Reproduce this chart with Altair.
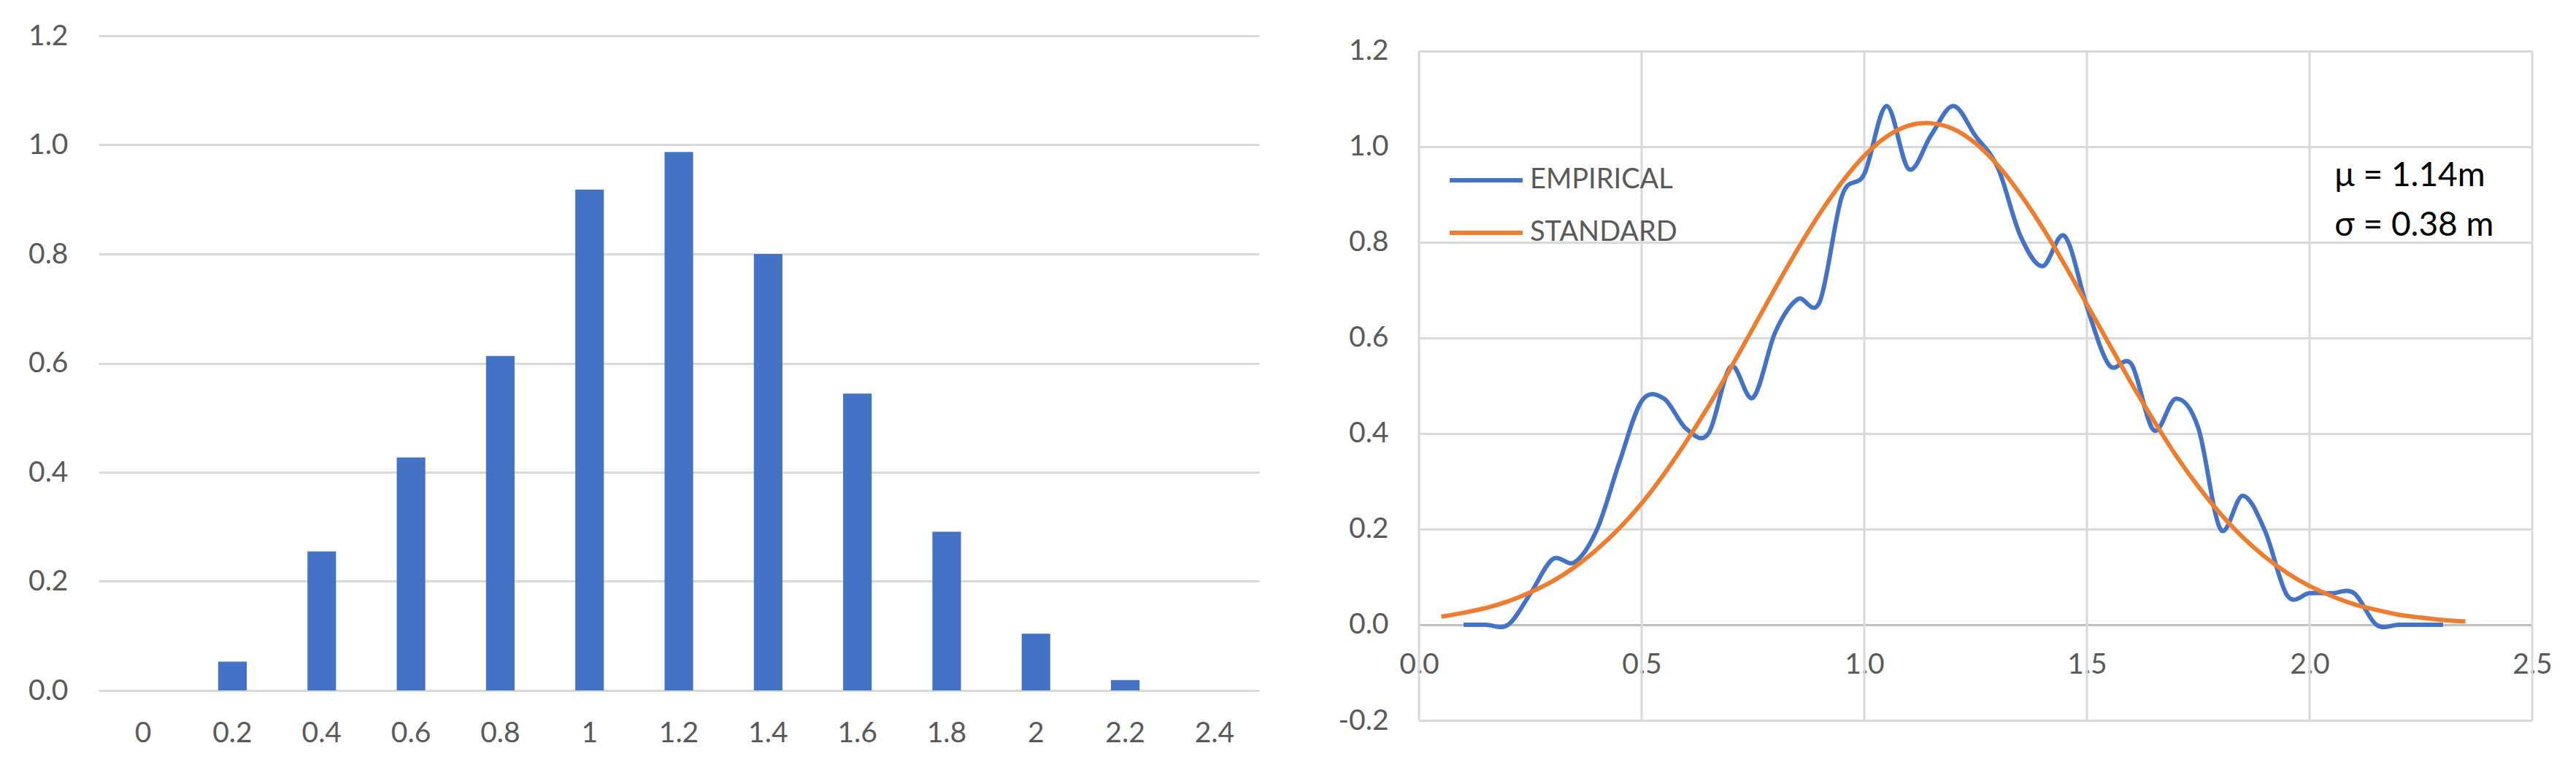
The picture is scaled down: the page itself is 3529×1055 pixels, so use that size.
import altair as alt
import pandas as pd

# ---------------- data: left histogram ----------------
bin_labels = ["0", "0.2", "0.4", "0.6", "0.8", "1", "1.2", "1.4", "1.6", "1.8", "2", "2.2", "2.4"]
bin_values = [0.0, 0.053, 0.255, 0.427, 0.613, 0.918, 0.987, 0.800, 0.544, 0.291, 0.104, 0.019, 0.0]
left_y_ticks = [0.0, 0.2, 0.4, 0.6, 0.8, 1.0, 1.2]

# ---------------- data: right curves ----------------
emp_x = [0.10, 0.15, 0.20, 0.25, 0.30, 0.35, 0.40, 0.45, 0.50, 0.55, 0.60, 0.65, 0.70, 0.75,
         0.80, 0.85, 0.90, 0.95, 1.00, 1.05, 1.10, 1.15, 1.20, 1.25, 1.30, 1.35, 1.40, 1.45,
         1.50, 1.55, 1.60, 1.65, 1.70, 1.75, 1.80, 1.85, 1.90, 1.95, 2.00, 2.05, 2.10, 2.15,
         2.20, 2.25, 2.30]
emp_y = [0.000, 0.000, 0.000, 0.065, 0.137, 0.131, 0.200, 0.340, 0.468, 0.473, 0.410, 0.400,
         0.540, 0.475, 0.612, 0.681, 0.676, 0.897, 0.943, 1.085, 0.953, 1.024, 1.085, 1.022,
         0.956, 0.815, 0.750, 0.813, 0.665, 0.543, 0.545, 0.407, 0.473, 0.412, 0.200, 0.270,
         0.196, 0.061, 0.066, 0.066, 0.066, 0.000, 0.000, 0.000, 0.000]

std_x = [0.05, 0.10, 0.15, 0.20, 0.25, 0.30, 0.35, 0.40, 0.45, 0.50, 0.55, 0.60, 0.65, 0.70,
         0.75, 0.80, 0.85, 0.90, 0.95, 1.00, 1.05, 1.10, 1.15, 1.20, 1.25, 1.30, 1.35, 1.40,
         1.45, 1.50, 1.55, 1.60, 1.65, 1.70, 1.75, 1.80, 1.85, 1.90, 1.95, 2.00, 2.05, 2.10,
         2.15, 2.20, 2.25, 2.30, 2.35]
std_y = [0.017, 0.025, 0.035, 0.049, 0.068, 0.091, 0.121, 0.158, 0.202, 0.254, 0.315, 0.383,
         0.457, 0.537, 0.620, 0.704, 0.785, 0.860, 0.926, 0.981, 1.021, 1.044, 1.049, 1.037,
         1.007, 0.961, 0.901, 0.831, 0.753, 0.670, 0.587, 0.505, 0.427, 0.354, 0.289, 0.232,
         0.183, 0.142, 0.108, 0.081, 0.060, 0.043, 0.031, 0.021, 0.015, 0.010, 0.007]

series_names = ["EMPIRICAL", "STANDARD"]
series_colors = ["#4472C4", "#ED7D31"]
right_x_ticks = [0.0, 0.5, 1.0, 1.5, 2.0, 2.5]
right_y_ticks = [-0.2, 0.0, 0.2, 0.4, 0.6, 0.8, 1.0, 1.2]

note_text = ["\u03bc = 1.14m", "\u03c3 = 0.38 m"]
note_x = [2.056, 2.056]
note_y = [0.918, 0.814]

FONT = "Lato"
LABEL_COLOR = "#595959"
GRID = "#D9D9D9"
HYPHEN_LABEL = "datum.value < 0 ? '-' + format(-datum.value, '.1f') : format(datum.value, '.1f')"

# ---------------- left chart ----------------
hist_df = pd.DataFrame({"bin": bin_labels, "value": bin_values})

left = alt.Chart(hist_df).mark_bar(color="#4472C4").encode(
    x=alt.X("bin:N", sort=bin_labels,
            scale=alt.Scale(paddingInner=0.68, paddingOuter=0.34),
            axis=alt.Axis(title=None, labelAngle=0, ticks=False, tickSize=0, domain=False,
                          grid=False, labelPadding=39)),
    y=alt.Y("value:Q", scale=alt.Scale(domain=[0, 1.2], nice=False),
            axis=alt.Axis(title=None, values=left_y_ticks, format=".1f", grid=True,
                          ticks=False, tickSize=0, domain=False, labelPadding=42)),
).properties(width=1590, height=897)

# ---------------- right chart ----------------
curves_df = pd.concat([
    pd.DataFrame({"x": emp_x, "y": emp_y, "series": series_names[0]}),
    pd.DataFrame({"x": std_x, "y": std_y, "series": series_names[1]}),
], ignore_index=True)

xscale = alt.Scale(domain=[0, 2.5], nice=False, zero=False)
yscale = alt.Scale(domain=[-0.2, 1.232], nice=False, zero=False)

vgrid = alt.Chart(pd.DataFrame({"x": right_x_ticks})).mark_rule(
    color=GRID, strokeWidth=3
).encode(
    x=alt.X("x:Q", scale=xscale,
            axis=alt.Axis(title=None, values=right_x_ticks, format=".1f", grid=False,
                          ticks=False, tickSize=0, domain=True, domainColor="#BFBFBF",
                          domainWidth=3, offset=-131, labelPadding=35,
                          labelFlush=False, labelOverlap=False)),
    y=alt.datum(-0.2),
    y2=alt.datum(1.2),
)

lines = alt.Chart(curves_df).mark_line(interpolate="cardinal", strokeWidth=6).encode(
    x=alt.X("x:Q", scale=xscale),
    y=alt.Y("y:Q", scale=yscale,
            axis=alt.Axis(title=None, values=right_y_ticks, labelExpr=HYPHEN_LABEL,
                          grid=True, ticks=False, tickSize=0, domain=False,
                          labelPadding=42)),
    color=alt.Color("series:N",
                    scale=alt.Scale(domain=series_names, range=series_colors),
                    legend=alt.Legend(title=None, orient="none", legendX=39, legendY=145,
                                      direction="vertical", symbolType="stroke",
                                      symbolSize=10000, symbolStrokeWidth=6,
                                      labelFontSize=38, labelColor=LABEL_COLOR,
                                      labelFont=FONT, labelOffset=7, rowPadding=-5,
                                      labelLimit=600, padding=0)),
)

notes = alt.Chart(pd.DataFrame({"x": note_x, "y": note_y, "t": note_text})).mark_text(
    align="left", baseline="alphabetic", fontSize=46, font=FONT, color="black"
).encode(
    x=alt.X("x:Q", scale=xscale),
    y=alt.Y("y:Q", scale=yscale),
    text="t:N",
)

right = alt.layer(vgrid, lines, notes).properties(width=1525, height=938)

chart = alt.hconcat(left, right, spacing=219, bounds="flush").resolve_legend(
    color="independent"
).properties(
    padding={"left": 30, "top": 22, "right": 5, "bottom": 5}
).configure_axis(
    labelFont=FONT, labelFontSize=39, labelColor=LABEL_COLOR,
    gridColor=GRID, gridWidth=3,
).configure_view(stroke=None)

chart.save("out.html", embed_options={"renderer": "svg", "actions": False})
